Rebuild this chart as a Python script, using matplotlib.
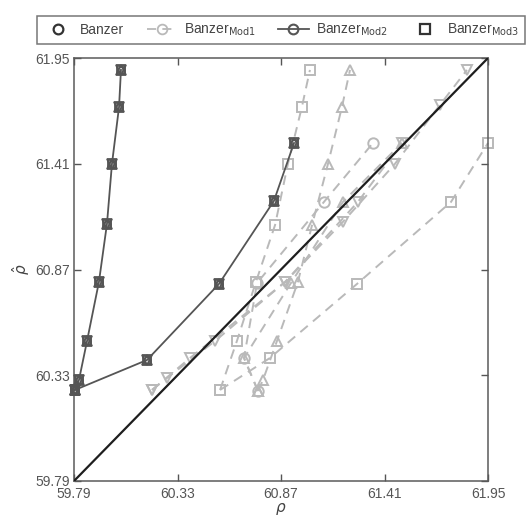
import matplotlib
matplotlib.use("Agg")
import matplotlib.pyplot as plt
from matplotlib.lines import Line2D

plt.rcParams['font.family'] = ['Liberation Sans', 'DejaVu Sans']

ticks = [59.79, 60.33, 60.87, 61.41, 61.95]
tick_labels = ["59.79", "60.33", "60.87", "61.41", "61.95"]

# dark curves (all estimators coincide)
dark_a_x = [59.795, 59.816, 59.858, 59.920, 59.962, 59.988, 60.025, 60.035]
dark_a_y = [60.255, 60.306, 60.505, 60.806, 61.103, 61.409, 61.700, 61.889]
dark_b_x = [59.795, 60.171, 60.546, 60.833, 60.938]
dark_b_y = [60.255, 60.408, 60.796, 61.220, 61.516]

# light dashed curves
sq_a_x = [60.552, 60.640, 60.739, 60.839, 60.906, 60.979, 61.021]
sq_a_y = [60.255, 60.505, 60.806, 61.097, 61.409, 61.700, 61.889]
sq_b_x = [60.552, 60.812, 61.266, 61.757, 61.950]
sq_b_y = [60.255, 60.418, 60.796, 61.215, 61.516]

tu_a_x = [60.750, 60.776, 60.849, 60.958, 61.032, 61.115, 61.188, 61.230]
tu_a_y = [60.250, 60.306, 60.505, 60.806, 61.097, 61.409, 61.700, 61.889]
tu_b_x = [60.750, 60.677, 60.922, 61.193, 61.501]
tu_b_y = [60.250, 60.418, 60.801, 61.215, 61.516]

td_a_x = [60.197, 60.275, 60.526, 60.891, 61.193, 61.464, 61.699, 61.840]
td_a_y = [60.255, 60.316, 60.505, 60.806, 61.113, 61.409, 61.710, 61.889]
td_b_x = [60.197, 60.395, 60.891, 61.271, 61.501]
td_b_y = [60.255, 60.418, 60.806, 61.215, 61.516]

ci_x = [60.750, 60.677, 60.745, 61.094, 61.350]
ci_y = [60.250, 60.418, 60.801, 61.215, 61.516]

legend_labels = ["Banzer", r"Banzer$_{\mathrm{Mod1}}$",
                 r"Banzer$_{\mathrm{Mod2}}$", r"Banzer$_{\mathrm{Mod3}}$"]

light = "#b9b9b9"
dark = "#555555"

fig = plt.figure(figsize=(5.28, 5.18), dpi=100)
ax = fig.add_axes([74/528, 1-481/518, 414/528, 423/518])

# diagonal reference line
ax.plot([ticks[0], ticks[-1]], [ticks[0], ticks[-1]], color="#1e1e1e", lw=1.6, zorder=3)

light_sets = [
    (sq_a_x, sq_a_y, "s"), (sq_b_x, sq_b_y, "s"),
    (tu_a_x, tu_a_y, "^"), (tu_b_x, tu_b_y, "^"),
    (td_a_x, td_a_y, "v"), (td_b_x, td_b_y, "v"),
    (ci_x, ci_y, "o"),
]
for xs, ys, m in light_sets:
    ax.plot(xs, ys, ls=(0, (5, 3.5)), color=light, lw=1.4, marker=m,
            ms=7.5, mfc="none", mec=light, mew=1.4, zorder=2, clip_on=False)

for xs, ys in [(dark_a_x, dark_a_y), (dark_b_x, dark_b_y)]:
    ax.plot(xs, ys, color=dark, lw=1.3, zorder=4, clip_on=False)
    for m, ms in [("^", 7.5), ("v", 7.5), ("s", 5.5), ("o", 5)]:
        ax.plot(xs, ys, ls="none", marker=m, ms=ms, mfc="none", mec=dark,
                mew=1.3, zorder=5, clip_on=False)

ax.set_xlim(ticks[0], ticks[-1])
ax.set_ylim(ticks[0], ticks[-1])
ax.set_xticks(ticks)
ax.set_yticks(ticks)
ax.set_xticklabels(tick_labels)
ax.set_yticklabels(tick_labels)
ax.tick_params(direction="in", length=5, width=1, colors="#555555",
               labelsize=10, top=True, right=True, pad=3)
ax.tick_params(axis="x", pad=4)
for s in ax.spines.values():
    s.set_color("#5a5a5a")
    s.set_linewidth(1.1)

ax.set_xlabel(r"$\rho$", fontsize=11, color="#444444", labelpad=0)
ax.set_ylabel(r"$\hat{\rho}$", fontsize=11, color="#444444", labelpad=2)

handles = [
    Line2D([], [], ls="none", marker="o", ms=7, mfc="none", mec="#333333", mew=1.6),
    Line2D([], [], ls=(0, (5, 3.5)), color=light, lw=1.3, marker="o", ms=7,
           mfc="none", mec=light, mew=1.3),
    Line2D([], [], ls="-", color=dark, lw=1.3, marker="o", ms=7,
           mfc="none", mec=dark, mew=1.5),
    Line2D([], [], ls="none", marker="s", ms=7, mfc="none", mec="#333333", mew=1.6),
]
leg = fig.legend(handles, legend_labels, loc="center", ncol=4,
                 bbox_to_anchor=(281/528, 1-30/518), frameon=True, fancybox=False,
                 edgecolor="#555555", fontsize=10, handlelength=2.2,
                 columnspacing=1.6, handletextpad=0.5, borderpad=0.45,
                 labelcolor="#444444")
leg.get_frame().set_linewidth(1.1)

fig.savefig("out.png", dpi=100, facecolor="white")
